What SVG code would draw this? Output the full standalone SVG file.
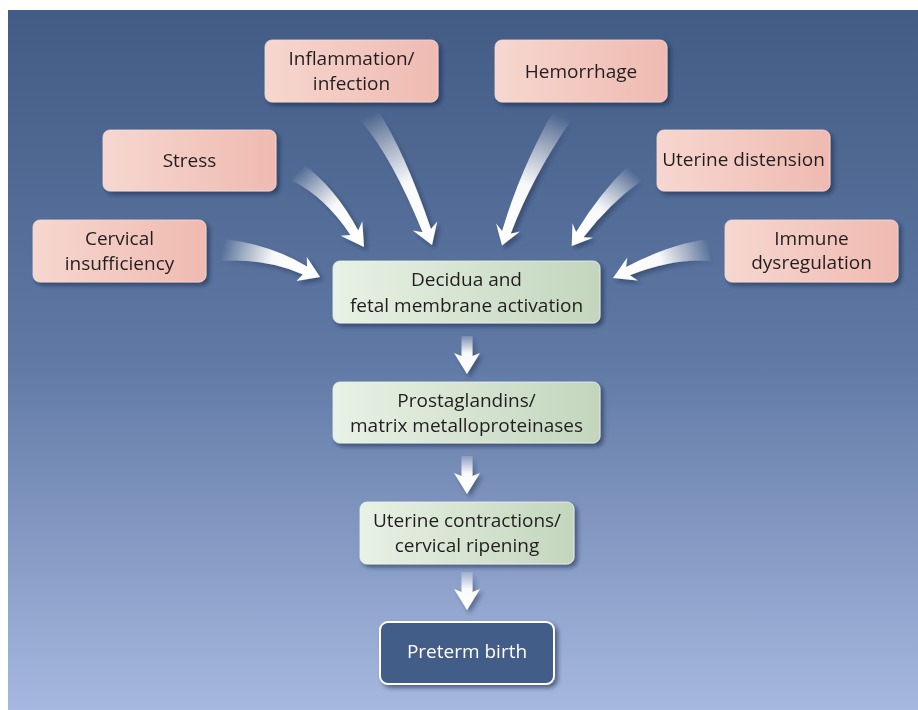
<svg xmlns="http://www.w3.org/2000/svg" width="918" height="710" viewBox="0 0 918 710">
<defs>
<style>
.t{font-family:"Open Sans","Liberation Sans",sans-serif;font-size:19px;fill:#231f20;text-anchor:middle}
.tw{fill:#ffffff}
.pink{fill:url(#gp);stroke:#f6dcd5;stroke-width:0.8}
.green{fill:url(#gg);stroke:#eef4ea;stroke-width:0.8}
.arr{filter:url(#sha)}
</style>
<linearGradient id="bg" x1="0" y1="0" x2="0" y2="1">
<stop offset="0" stop-color="#425c85"/>
<stop offset="0.5" stop-color="#6079a5"/>
<stop offset="1" stop-color="#a6b8df"/>
</linearGradient>
<linearGradient id="gp" x1="0" y1="0" x2="1" y2="0">
<stop offset="0" stop-color="#f6d7cf"/>
<stop offset="1" stop-color="#efbab1"/>
</linearGradient>
<linearGradient id="gg" x1="0" y1="0" x2="1" y2="0">
<stop offset="0" stop-color="#e8f1e5"/>
<stop offset="1" stop-color="#c3d6bd"/>
</linearGradient>
<filter id="sh" x="-10%" y="-10%" width="130%" height="140%">
<feDropShadow dx="3" dy="3" stdDeviation="2" flood-color="#15243f" flood-opacity="0.55"/>
</filter>
<filter id="sha" x="-20%" y="-20%" width="150%" height="150%">
<feDropShadow dx="3" dy="3" stdDeviation="2" flood-color="#15243f" flood-opacity="0.45"/>
</filter>
<linearGradient id="a1" gradientUnits="userSpaceOnUse" x1="222" y1="250" x2="305" y2="270">
<stop offset="0" stop-color="#fff" stop-opacity="0"/><stop offset="0.6" stop-color="#fff" stop-opacity="0.95"/><stop offset="1" stop-color="#fff"/>
</linearGradient>
<linearGradient id="a2" gradientUnits="userSpaceOnUse" x1="297" y1="172" x2="354" y2="233">
<stop offset="0" stop-color="#fff" stop-opacity="0"/><stop offset="0.6" stop-color="#fff" stop-opacity="0.95"/><stop offset="1" stop-color="#fff"/>
</linearGradient>
<linearGradient id="a3" gradientUnits="userSpaceOnUse" x1="369" y1="115" x2="427" y2="231">
<stop offset="0" stop-color="#fff" stop-opacity="0"/><stop offset="0.6" stop-color="#fff" stop-opacity="0.95"/><stop offset="1" stop-color="#fff"/>
</linearGradient>
<linearGradient id="a4" gradientUnits="userSpaceOnUse" x1="562" y1="116" x2="506" y2="232">
<stop offset="0" stop-color="#fff" stop-opacity="0"/><stop offset="0.6" stop-color="#fff" stop-opacity="0.95"/><stop offset="1" stop-color="#fff"/>
</linearGradient>
<linearGradient id="a5" gradientUnits="userSpaceOnUse" x1="635" y1="173" x2="580" y2="235">
<stop offset="0" stop-color="#fff" stop-opacity="0"/><stop offset="0.6" stop-color="#fff" stop-opacity="0.95"/><stop offset="1" stop-color="#fff"/>
</linearGradient>
<linearGradient id="a6" gradientUnits="userSpaceOnUse" x1="710" y1="250" x2="628" y2="271">
<stop offset="0" stop-color="#fff" stop-opacity="0"/><stop offset="0.6" stop-color="#fff" stop-opacity="0.95"/><stop offset="1" stop-color="#fff"/>
</linearGradient>
<linearGradient id="ad" x1="0" y1="0" x2="0" y2="1">
<stop offset="0" stop-color="#fff" stop-opacity="0.15"/><stop offset="0.45" stop-color="#fff" stop-opacity="0.95"/><stop offset="1" stop-color="#fff"/>
</linearGradient>
</defs>
<rect x="8" y="10" width="910" height="700" fill="url(#bg)"/>
<g id="connectors">
<path class="arr" fill="url(#a1)" d="M222,239 Q269.8,243.7 307.1,266.5 L306.8,257 L320,277 L296.4,281 L302.9,274.5 Q266.2,258.3 222,261 Z"/>
<path class="arr" fill="url(#a2)" d="M302.2,163.4 Q335,187.1 358.2,230.4 L362.3,221.2 L364,247 L340.7,235.8 L350.4,235 Q325,196.9 291.8,180.6 Z"/>
<path class="arr" fill="url(#a3)" d="M377,109 Q404.3,150.6 431,229.1 L437.2,221.5 L432,245 L412.8,230.5 L422.6,232.3 Q392.1,157.4 361,121 Z"/>
<path class="arr" fill="url(#a4)" d="M570.5,121.3 Q532.5,176.4 510.7,233.7 L519.9,231.5 L502,245.5 L496.1,223.5 L502.1,230.9 Q519.9,170.4 553.5,110.7 Z"/>
<path class="arr" fill="url(#a5)" d="M641.4,180.7 Q610.2,202.7 583.5,237.2 L593,237.7 L571.7,246 L572.5,223.3 L576.1,232 Q599.8,193.3 628.6,165.3 Z"/>
<path class="arr" fill="url(#a6)" d="M710,261 Q674.6,257.8 629.9,275.2 L637.8,280.4 L613,278 L627.3,257.6 L626.1,267 Q671.4,243.2 710,239 Z"/>
<path class="arr" fill="url(#ad)" d="M461.5,336 L472.5,336 L472.5,356 L480,353 L467,374 L454,353 L461.5,356 Z"/>
<path class="arr" fill="url(#ad)" d="M461.5,456 L472.5,456 L472.5,476 L480,473 L467,494 L454,473 L461.5,476 Z"/>
<path class="arr" fill="url(#ad)" d="M461.5,572 L472.5,572 L472.5,592 L480,589 L467,610 L454,589 L461.5,592 Z"/>
</g>
<g id="inflammation" filter="url(#sh)">
<rect class="pink" x="265" y="40" width="173" height="62" rx="7"/>
<text class="t" x="351.5" y="65">Inflammation/</text>
<text class="t" x="351.5" y="90">infection</text>
</g>
<g id="hemorrhage" filter="url(#sh)">
<rect class="pink" x="495" y="40" width="172" height="62" rx="7"/>
<text class="t" x="581" y="78">Hemorrhage</text>
</g>
<g id="stress" filter="url(#sh)">
<rect class="pink" x="103" y="130" width="173" height="61" rx="7"/>
<text class="t" x="189.5" y="167">Stress</text>
</g>
<g id="uterine-distension" filter="url(#sh)">
<rect class="pink" x="657" y="130" width="173" height="61" rx="7"/>
<text class="t" x="743.5" y="166">Uterine distension</text>
</g>
<g id="cervical" filter="url(#sh)">
<rect class="pink" x="33" y="220" width="173" height="62" rx="7"/>
<text class="t" x="119.5" y="245">Cervical</text>
<text class="t" x="119.5" y="270">insufficiency</text>
</g>
<g id="immune" filter="url(#sh)">
<rect class="pink" x="725" y="220" width="173" height="62" rx="7"/>
<text class="t" x="811.5" y="245">Immune</text>
<text class="t" x="811.5" y="269">dysregulation</text>
</g>
<g id="decidua" filter="url(#sh)">
<rect class="green" x="333" y="261" width="267" height="62" rx="7"/>
<text class="t" x="466.5" y="286">Decidua and</text>
<text class="t" x="466.5" y="312">fetal membrane activation</text>
</g>
<g id="prostaglandins" filter="url(#sh)">
<rect class="green" x="333" y="382" width="267" height="61" rx="7"/>
<text class="t" x="466.5" y="407">Prostaglandins/</text>
<text class="t" x="466.5" y="432">matrix metalloproteinases</text>
</g>
<g id="contractions" filter="url(#sh)">
<rect class="green" x="360" y="502" width="214" height="62" rx="7"/>
<text class="t" x="467" y="527">Uterine contractions/</text>
<text class="t" x="467" y="552">cervical ripening</text>
</g>
<g id="preterm" filter="url(#sh)">
<rect x="380" y="622" width="174" height="62" rx="8" fill="#435d87" stroke="#ffffff" stroke-width="2"/>
<text class="t tw" x="467" y="658">Preterm birth</text>
</g>
</svg>
